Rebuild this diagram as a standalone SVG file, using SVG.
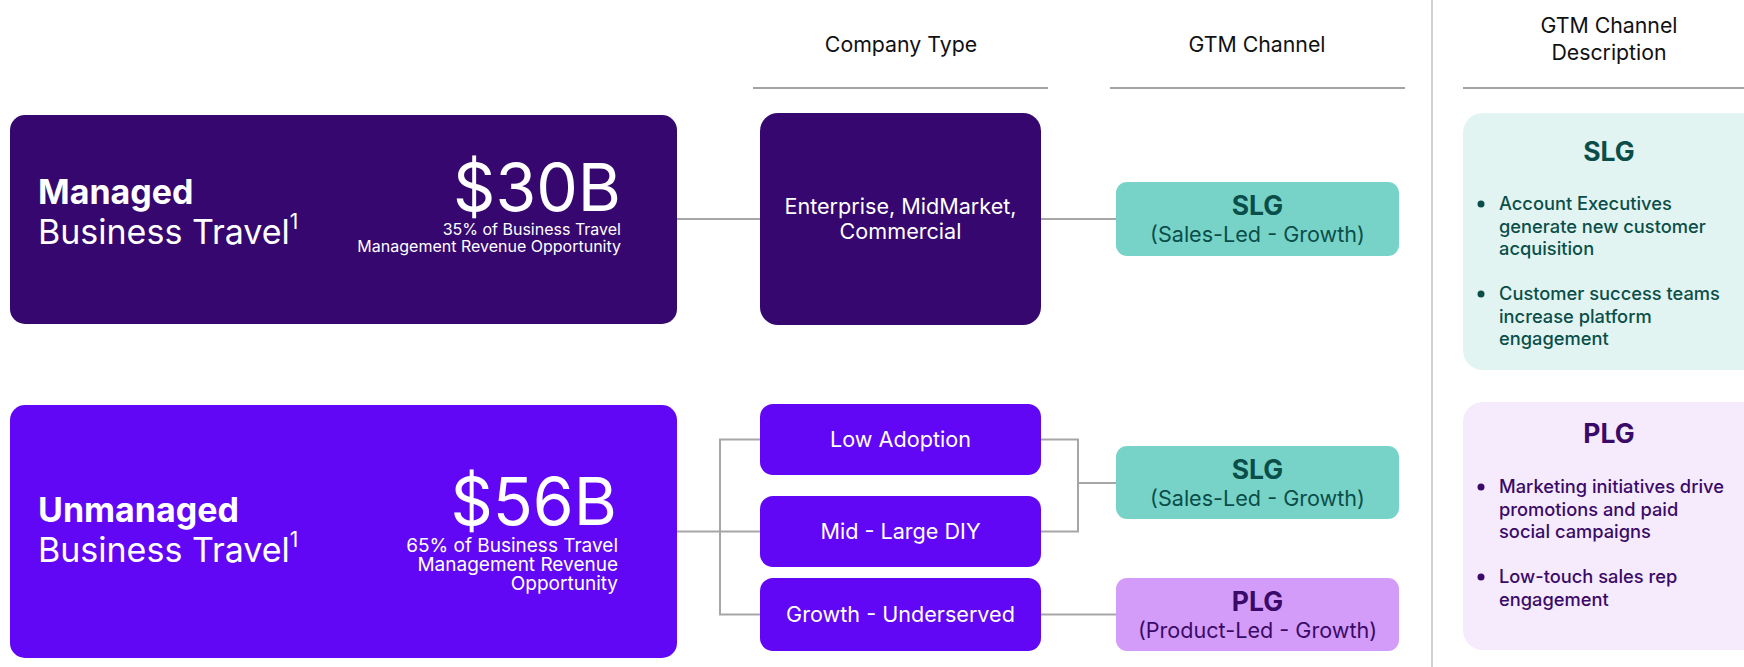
<svg xmlns="http://www.w3.org/2000/svg" width="1744" height="667" viewBox="0 0 1744 667">
  <style>
    text { font-family: Inter, "Liberation Sans", sans-serif; }
    .hdr { font-size: 21.3px; fill: #111111; text-anchor: middle; }
    .rule { stroke: #A3A3A3; stroke-width: 2; fill: none; }
    .conn { stroke: #A6A6A6; stroke-width: 2; fill: none; }
    .dark { fill: #35076F; }
    .vio { fill: #6207F6; }
    .wt { fill: #FFFFFF; }
    .mid { font-size: 21.6px; fill: #FFFFFF; text-anchor: middle; }
    .slgbox { fill: #77D3C8; }
    .plgbox { fill: #D49CF9; }
    .slgt { fill: #0B4E49; text-anchor: middle; }
    .plgt { fill: #3A0A68; text-anchor: middle; }
    .ttl { font-size: 26.5px; font-weight: 700; }
    .sub { font-size: 21.6px; }
    .big { font-size: 34px; fill: #FFFFFF; }
    .amt { font-size: 66px; fill: #FFFFFF; text-anchor: end; }
    .desc { font-size: 18.3px; font-weight: 500; }
  </style>

  <!-- headers -->
  <g id="headers">
    <text class="hdr" x="901" y="52">Company Type</text>
    <line class="rule" x1="753" y1="88" x2="1048" y2="88"/>
    <text class="hdr" x="1257" y="52">GTM Channel</text>
    <line class="rule" x1="1110" y1="88" x2="1405" y2="88"/>
    <text class="hdr" x="1609" y="33">GTM Channel</text>
    <text class="hdr" x="1609" y="60">Description</text>
    <line class="rule" x1="1463" y1="88" x2="1744" y2="88"/>
    <line x1="1432" y1="0" x2="1432" y2="667" stroke="#D2D2D2" stroke-width="2"/>
  </g>

  <!-- connectors -->
  <g id="connectors">
    <line class="conn" x1="677" y1="219" x2="760" y2="219"/>
    <line class="conn" x1="1041" y1="219" x2="1116" y2="219"/>
    <line class="conn" x1="677" y1="531.5" x2="760" y2="531.5"/>
    <polyline class="conn" points="760,439.5 720,439.5 720,614.5 760,614.5"/>
    <polyline class="conn" points="1041,439.5 1078,439.5 1078,531.5 1041,531.5"/>
    <line class="conn" x1="1078" y1="483" x2="1116" y2="483"/>
    <line class="conn" x1="1041" y1="614.5" x2="1116" y2="614.5"/>
  </g>

  <!-- left market boxes -->
  <g id="managed">
    <rect class="dark" x="10" y="115" width="667" height="209" rx="15"/>
    <text class="big" x="38" y="204" font-weight="700">Managed</text>
    <text class="big" x="38" y="244">Business Travel<tspan font-size="21" dy="-15">1</tspan></text>
    <text class="amt" x="621" y="211">$30B</text>
    <text class="wt" font-size="16" text-anchor="end" x="621" y="235">35% of Business Travel</text>
    <text class="wt" font-size="16" text-anchor="end" x="621" y="252">Management Revenue Opportunity</text>
  </g>

  <g id="unmanaged">
    <rect class="vio" x="10" y="405" width="667" height="253" rx="15"/>
    <text class="big" x="38" y="522" font-weight="700">Unmanaged</text>
    <text class="big" x="38" y="562">Business Travel<tspan font-size="21" dy="-15">1</tspan></text>
    <text class="amt" x="617" y="525">$56B</text>
    <text class="wt" font-size="19" text-anchor="end" x="618" y="552">65% of Business Travel</text>
    <text class="wt" font-size="19" text-anchor="end" x="618" y="571">Management Revenue</text>
    <text class="wt" font-size="19" text-anchor="end" x="618" y="590">Opportunity</text>
  </g>

  <!-- company type boxes -->
  <g id="enterprise">
    <rect class="dark" x="760" y="113" width="281" height="212" rx="18"/>
    <text class="mid" x="900.5" y="214">Enterprise, MidMarket,</text>
    <text class="mid" x="900.5" y="239">Commercial</text>
  </g>
  <g id="low-adoption">
    <rect class="vio" x="760" y="404" width="281" height="71" rx="13"/>
    <text class="mid" x="900.5" y="447">Low Adoption</text>
  </g>
  <g id="mid-large-diy">
    <rect class="vio" x="760" y="496" width="281" height="71" rx="13"/>
    <text class="mid" x="900.5" y="539">Mid - Large DIY</text>
  </g>
  <g id="growth-underserved">
    <rect class="vio" x="760" y="578" width="281" height="73" rx="13"/>
    <text class="mid" x="900.5" y="622">Growth - Underserved</text>
  </g>

  <!-- GTM channel boxes -->
  <g id="slg-1">
    <rect class="slgbox" x="1116" y="182" width="283" height="74" rx="11"/>
    <text class="slgt ttl" x="1257.5" y="215">SLG</text>
    <text class="slgt sub" x="1257.5" y="242">(Sales-Led - Growth)</text>
  </g>
  <g id="slg-2">
    <rect class="slgbox" x="1116" y="446" width="283" height="73" rx="11"/>
    <text class="slgt ttl" x="1257.5" y="479">SLG</text>
    <text class="slgt sub" x="1257.5" y="506">(Sales-Led - Growth)</text>
  </g>
  <g id="plg">
    <rect class="plgbox" x="1116" y="578" width="283" height="73" rx="11"/>
    <text class="plgt ttl" x="1257.5" y="611">PLG</text>
    <text class="plgt sub" x="1257.5" y="638">(Product-Led - Growth)</text>
  </g>

  <!-- descriptions -->
  <g id="slg-description">
    <rect x="1463" y="113" width="320" height="257" rx="20" fill="#E1F4F1"/>
    <text class="slgt ttl" x="1609" y="161">SLG</text>
    <g fill="#0B4E49">
      <circle cx="1481" cy="204" r="3.5"/>
      <circle cx="1481" cy="294" r="3.5"/>
      <text class="desc" x="1499" y="210">Account Executives</text>
      <text class="desc" x="1499" y="232.5">generate new customer</text>
      <text class="desc" x="1499" y="255">acquisition</text>
      <text class="desc" x="1499" y="300">Customer success teams</text>
      <text class="desc" x="1499" y="322.5">increase platform</text>
      <text class="desc" x="1499" y="345">engagement</text>
    </g>
  </g>
  <g id="plg-description">
    <rect x="1463" y="402" width="320" height="248" rx="20" fill="#F6EAFD"/>
    <text class="plgt ttl" x="1609" y="443">PLG</text>
    <g fill="#3A0A68">
      <circle cx="1481" cy="487" r="3.5"/>
      <circle cx="1481" cy="577" r="3.5"/>
      <text class="desc" x="1499" y="493">Marketing initiatives drive</text>
      <text class="desc" x="1499" y="515.5">promotions and paid</text>
      <text class="desc" x="1499" y="538">social campaigns</text>
      <text class="desc" x="1499" y="583">Low-touch sales rep</text>
      <text class="desc" x="1499" y="605.5">engagement</text>
    </g>
  </g>
</svg>
